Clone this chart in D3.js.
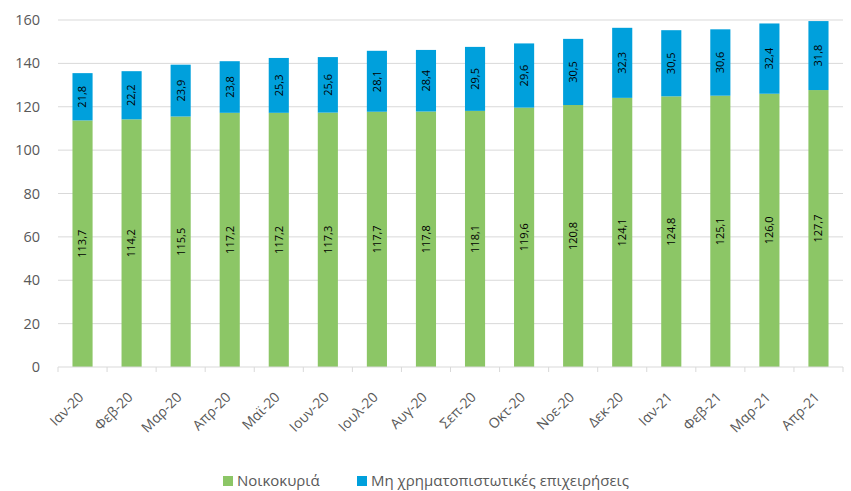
<!DOCTYPE html>
<html>
<head>
<meta charset="utf-8">
<script src="https://cdn.jsdelivr.net/npm/d3@7"></script>
<style>
  body { margin: 0; background: #fff; }
  svg { font-family: "Open Sans", "Noto Sans", sans-serif; }
</style>
</head>
<body>
<svg id="chart" width="851" height="491"></svg>
<script>
const months = ["Ιαν-20", "Φεβ-20", "Μαρ-20", "Απρ-20", "Μαϊ-20", "Ιουν-20", "Ιουλ-20", "Αυγ-20",
                "Σεπ-20", "Οκτ-20", "Νοε-20", "Δεκ-20", "Ιαν-21", "Φεβ-21", "Μαρ-21", "Απρ-21"];
const households = [113.7, 114.2, 115.5, 117.2, 117.2, 117.3, 117.7, 117.8, 118.1, 119.6, 120.8, 124.1, 124.8, 125.1, 126.0, 127.7];
const firms = [21.8, 22.2, 23.9, 23.8, 25.3, 25.6, 28.1, 28.4, 29.5, 29.6, 30.5, 32.3, 30.5, 30.6, 32.4, 31.8];
const yTicks = [0, 20, 40, 60, 80, 100, 120, 140, 160];
const seriesNames = ["Νοικοκυριά", "Μη χρηματοπιστωτικές επιχειρήσεις"];
const colors = ["#8cc666", "#00a0dc"];

const svg = d3.select("#chart");
const margins = {top: 20, left: 58, right: 8, bottom: 124};
const width = 851, height = 491;

const data = months.map((m, i) => ({month: m, h: households[i], f: firms[i]}));

const x = d3.scaleBand()
  .domain(months)
  .range([margins.left, width - margins.right])
  .paddingInner(0.59)
  .paddingOuter(0.295);

const y = d3.scaleLinear()
  .domain([0, 160])
  .range([height - margins.bottom, margins.top]);

// gridlines
svg.append("g")
  .selectAll("line")
  .data(yTicks.filter(d => d > 0))
  .join("line")
  .attr("x1", margins.left)
  .attr("x2", width - margins.right)
  .attr("y1", d => y(d))
  .attr("y2", d => y(d))
  .attr("stroke", "#d9d9d9")
  .attr("stroke-width", 1);

// y tick labels
svg.append("g")
  .selectAll("text")
  .data(yTicks)
  .join("text")
  .attr("x", 40)
  .attr("y", d => y(d))
  .attr("dy", "0.35em")
  .attr("text-anchor", "end")
  .attr("fill", "#595959")
  .style("font-size", "14.5px")
  .text(d => d);

// stacked bars
const stack = d3.stack().keys(["h", "f"])(data);

const groups = svg.append("g")
  .selectAll("g")
  .data(stack)
  .join("g")
  .attr("fill", (d, i) => colors[i]);

groups.selectAll("rect")
  .data(d => d)
  .join("rect")
  .attr("x", d => x(d.data.month))
  .attr("width", x.bandwidth())
  .attr("y", d => y(d[1]))
  .attr("height", d => y(d[0]) - y(d[1]));

// value labels
groups.selectAll("text")
  .data(d => d)
  .join("text")
  .attr("transform", d => `translate(${x(d.data.month) + x.bandwidth() / 2}, ${y((d[0] + d[1]) / 2)}) rotate(-90)`)
  .attr("text-anchor", "middle")
  .attr("dy", "0.35em")
  .attr("fill", "#000")
  .style("font-size", "11px")
  .text(d => d3.format(".1f")(d[1] - d[0]).replace(".", ","));

// x axis
const axisG = svg.append("g")
  .attr("transform", `translate(0, ${y(0)})`);
axisG.append("line")
  .attr("x1", margins.left)
  .attr("x2", width - margins.right)
  .attr("stroke", "#d9d9d9");
const step = x.step();
axisG.selectAll(".tk")
  .data(d3.range(months.length + 1))
  .join("line")
  .attr("class", "tk")
  .attr("x1", i => margins.left + i * step)
  .attr("x2", i => margins.left + i * step)
  .attr("y1", 0)
  .attr("y2", 5)
  .attr("stroke", "#d9d9d9");

axisG.selectAll(".lbl")
  .data(months)
  .join("text")
  .attr("class", "lbl")
  .attr("transform", d => `translate(${x(d) + x.bandwidth() / 2 + 2}, 31) rotate(-45)`)
  .attr("text-anchor", "end")
  .attr("fill", "#595959")
  .style("font-size", "14px")
  .text(d => d);

// legend
const legendItems = [{x: 223, name: seriesNames[0], color: colors[0]}, {x: 357, name: seriesNames[1], color: colors[1]}];
const legend = svg.append("g");
legendItems.forEach(it => {
  legend.append("rect")
    .attr("x", it.x)
    .attr("y", 476)
    .attr("width", 10)
    .attr("height", 10)
    .attr("fill", it.color);
  legend.append("text")
    .attr("x", it.x + 14)
    .attr("y", 481)
    .attr("dy", "0.35em")
    .attr("fill", "#595959")
    .style("font-size", "15px")
    .text(it.name);
});
</script>
</body>
</html>
